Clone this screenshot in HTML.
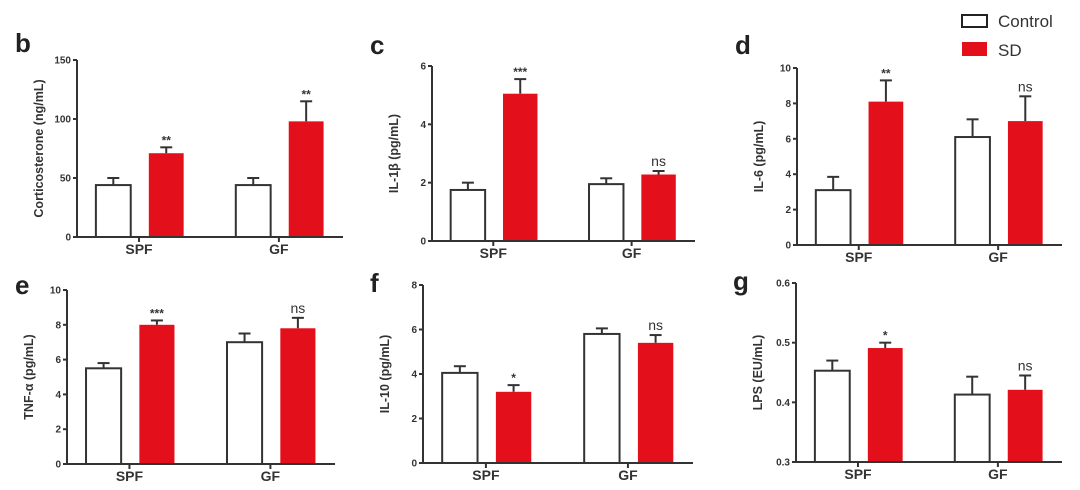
<!DOCTYPE html>
<html><head><meta charset="utf-8"><style>
body{margin:0;background:#fff;}
svg{display:block;font-family:"Liberation Sans",Arial,sans-serif;}
</style></head><body>
<svg id="fig" width="1080" height="490" viewBox="0 0 1080 490">
<g>
<rect x="962" y="15" width="25" height="12" fill="#fff" stroke="#222" stroke-width="2"/>
<text x="998" y="27" font-size="17" fill="#333">Control</text>
<rect x="962" y="42" width="25" height="14" fill="#e3101b"/>
<text x="998" y="56" font-size="17" fill="#333">SD</text>
</g>
</svg>
<script>
const categories = ["SPF","GF"];
const panelLetters = ["b","c","d","e","f","g"];
const yTitles = ["Corticosterone (ng/mL)","IL-1β (pg/mL)","IL-6 (pg/mL)","TNF-α (pg/mL)","IL-10 (pg/mL)","LPS (EU/mL)"];
const controlValues = [[44,44],[1.75,1.95],[3.1,6.1],[5.5,7.0],[4.05,5.8],[0.453,0.413]];
const controlErrors = [[6,6],[0.25,0.2],[0.75,1.0],[0.3,0.5],[0.3,0.25],[0.017,0.03]];
const sdValues = [[71,98],[5.05,2.28],[8.1,7.0],[8.0,7.8],[3.2,5.4],[0.491,0.421]];
const sdErrors = [[5,17],[0.5,0.12],[1.2,1.4],[0.25,0.6],[0.3,0.35],[0.009,0.024]];
const sigLabels = [["**","**"],["***","ns"],["**","ns"],["***","ns"],["*","ns"],["*","ns"]];
const yTicks = [["0","50","100","150"],["0","2","4","6"],["0","2","4","6","8","10"],["0","2","4","6","8","10"],["0","2","4","6","8"],["0.3","0.4","0.5","0.6"]];
// layout (not data)
const layout=[
 {ax:77,top:60,bot:237,end:343,lx:15,ly:52},
 {ax:432,top:66,bot:241,end:695,lx:370,ly:54},
 {ax:797,top:68,bot:245,end:1062,lx:735,ly:54},
 {ax:67,top:290,bot:464,end:335,lx:15,ly:294},
 {ax:423,top:285,bot:463,end:693,lx:370,ly:292},
 {ax:796,top:283,bot:462,end:1062,lx:733,ly:290}];
const NS="http://www.w3.org/2000/svg";
const svg=document.getElementById("fig");
function mk(t,a,p){const e=document.createElementNS(NS,t);for(const k in a)e.setAttribute(k,a[k]);(p||svg).appendChild(e);return e;}
layout.forEach((L,i)=>{
 const g=mk("g",{});
 
 
 const ticks=yTicks[i].map(Number);
 const y0=ticks[0],y1=ticks[ticks.length-1];
 const y=v=>L.bot-(v-y0)/(y1-y0)*(L.bot-L.top);
 const w=L.end-L.ax;
 const x=f=>L.ax+f*w;
 const lt=mk("text",{x:L.lx,y:L.ly,"font-size":26,"font-weight":"bold",fill:"#222"},g);lt.textContent=panelLetters[i];
 
 
 const ya=mk("line",{x1:L.ax,y1:L.top,x2:L.ax,y2:L.bot,stroke:"#333","stroke-width":2},g);
 
 
 const xa=mk("line",{x1:L.ax,y1:L.bot,x2:L.end,y2:L.bot,stroke:"#333","stroke-width":2},g);
 
 
 yTicks[i].forEach(t=>{
  const yy=y(+t);
  mk("line",{x1:L.ax-4,y1:yy,x2:L.ax,y2:yy,stroke:"#333","stroke-width":2},g);
  const tx=mk("text",{x:L.ax-6,y:yy+3.5,"font-size":10,"font-weight":"bold","text-anchor":"end",fill:"#333"},g);tx.textContent=t;
  
  
 });
 const cy=(L.top+L.bot)/2;
 const tX=L.ax-34;
 const yt=mk("text",{x:tX,y:cy,"font-size":12.5,"font-weight":"bold","text-anchor":"middle",fill:"#333",transform:`rotate(-90 ${tX} ${cy})`},g);yt.textContent=yTitles[i];
 
 
 const bw=0.131*w;
 categories.forEach((c,j)=>{
  const cx=x(0.233+j*0.526);
  mk("line",{x1:cx,y1:L.bot,x2:cx,y2:L.bot+5,stroke:"#333","stroke-width":2},g);
  const cl=mk("text",{x:cx,y:L.bot+17,"font-size":14,"font-weight":"bold","text-anchor":"middle",fill:"#333"},g);cl.textContent=c;
  
  
  const xc=x(0.071+j*0.526), xs=x(0.27+j*0.526);
  const vc=controlValues[i][j], ec=controlErrors[i][j];
  mk("line",{x1:xc+bw/2,y1:y(vc),x2:xc+bw/2,y2:y(vc+ec),stroke:"#333","stroke-width":2},g);
  mk("line",{x1:xc+bw/2-6,y1:y(vc+ec),x2:xc+bw/2+6,y2:y(vc+ec),stroke:"#333","stroke-width":2},g);
  const b1=mk("rect",{x:xc,y:y(vc),width:bw,height:L.bot-y(vc),fill:"#fff",stroke:"#333","stroke-width":2},g);
  
  
  const vs=sdValues[i][j], es=sdErrors[i][j];
  mk("line",{x1:xs+bw/2,y1:y(vs),x2:xs+bw/2,y2:y(vs+es),stroke:"#333","stroke-width":2},g);
  mk("line",{x1:xs+bw/2-6,y1:y(vs+es),x2:xs+bw/2+6,y2:y(vs+es),stroke:"#333","stroke-width":2},g);
  const b2=mk("rect",{x:xs,y:y(vs),width:bw,height:L.bot-y(vs)-1,fill:"#e3101b"},g);
  
  
  const s=sigLabels[i][j];
  const st=mk("text",{x:xs+bw/2,y:y(vs+es)-(s==="ns"?5:3),"font-size":s==="ns"?14:12,"font-weight":s==="ns"?"normal":"bold","text-anchor":"middle",fill:"#333"},g);st.textContent=s;
  
  
 });
});
</script>
</body></html>
